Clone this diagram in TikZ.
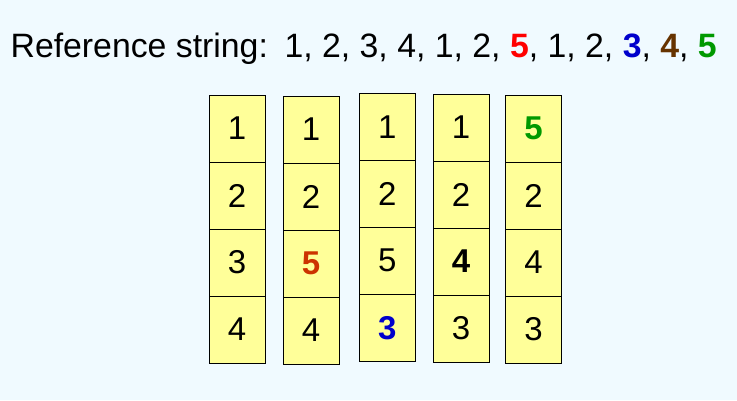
\documentclass[tikz,border=0pt]{standalone}
\usepackage{fontspec}
\setmainfont{Liberation Sans}
\definecolor{bg}{RGB}{240,250,255}
\definecolor{cellfill}{RGB}{255,255,153}
\definecolor{refred}{RGB}{255,0,0}
\definecolor{refblue}{RGB}{0,0,204}
\definecolor{refbrown}{RGB}{102,51,0}
\definecolor{refgreen}{RGB}{0,153,0}
\definecolor{cellorange}{RGB}{204,51,0}
\begin{document}
\begin{tikzpicture}[x=1pt,y=-1pt,
  cell/.style={draw=black, line width=1pt, fill=cellfill, minimum width=56pt,
    minimum height=67pt, inner sep=0pt, outer sep=0pt,
    font=\fontsize{33}{40}\selectfont},
  bigtext/.style={font=\fontsize{33.8}{40}\selectfont}]
\fill[bg] (0,0) rectangle (737,400);
\useasboundingbox (0,0) rectangle (737,400);
\node[bigtext, anchor=base west, inner sep=0pt] (title) at (10.4,57.7)
  {Reference string:\hspace{16.6pt}1, 2, 3, 4, 1, 2, {\bfseries\color{refred}5}, 1, 2, {\bfseries\color{refblue}3}, {\bfseries\color{refbrown}4}, {\bfseries\color{refgreen}5}};
% column 1
\node[cell] (a1) at (237,128.5) {1};
\node[cell] (a2) at (237,195.5) {2};
\node[cell] (a3) at (237,262.5) {3};
\node[cell] (a4) at (237,329.5) {4};
% column 2
\node[cell] (b1) at (311,129.5) {1};
\node[cell] (b2) at (311,196.5) {2};
\node[cell] (b3) at (311,263.5) {\bfseries\color{cellorange}5};
\node[cell] (b4) at (311,330.5) {4};
% column 3
\node[cell] (c1) at (387.3,126.8) {1};
\node[cell] (c2) at (387.3,193.8) {2};
\node[cell] (c3) at (387.3,260.8) {5};
\node[cell] (c4) at (387.3,327.8) {\bfseries\color{refblue}3};
% column 4
\node[cell] (d1) at (461,127.5) {1};
\node[cell] (d2) at (461,194.5) {2};
\node[cell] (d3) at (461,261.5) {\bfseries 4};
\node[cell] (d4) at (461,328.5) {3};
% column 5
\node[cell] (e1) at (533.5,128.5) {\bfseries\color{refgreen}5};
\node[cell] (e2) at (533.5,195.5) {2};
\node[cell] (e3) at (533.5,262.5) {4};
\node[cell] (e4) at (533.5,329.5) {3};
\end{tikzpicture}
\end{document}
